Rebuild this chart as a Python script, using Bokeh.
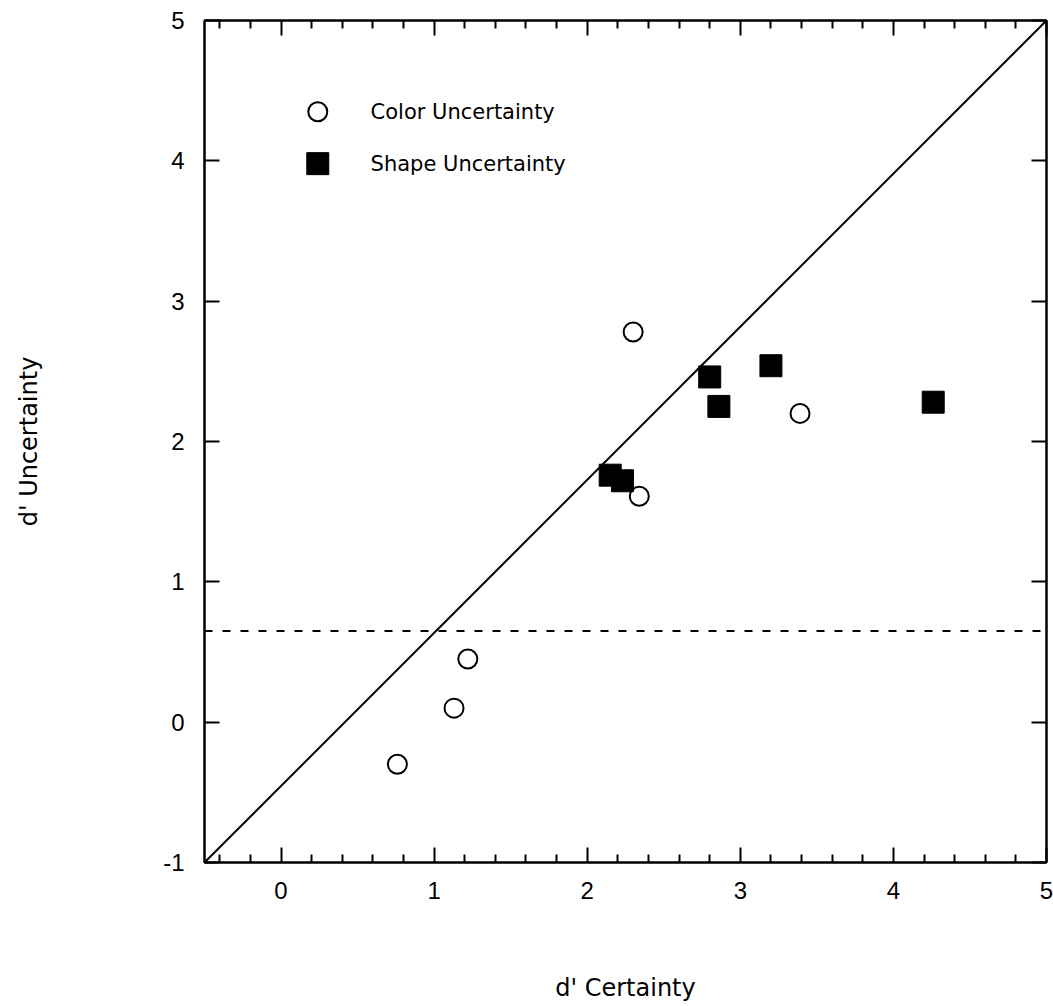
from bokeh.plotting import figure
from bokeh.models import LinearAxis, FixedTicker, Range1d
from bokeh.core.properties import value
from bokeh.embed import file_html
from bokeh.resources import INLINE

# Data
color_x = [2.30, 3.39, 2.34, 1.22, 1.13, 0.76]
color_y = [2.78, 2.20, 1.61, 0.45, 0.10, -0.30]
shape_x = [2.15, 2.23, 2.80, 2.86, 3.20, 4.26]
shape_y = [1.76, 1.72, 2.46, 2.25, 2.54, 2.28]
chance_level = 0.65
diag_x = [-0.5, 5.0]
diag_y = [-1.0, 5.0]
x_ticks = [0, 1, 2, 3, 4, 5]
y_ticks = [-1, 0, 1, 2, 3, 4, 5]
legend_labels = ["Color Uncertainty", "Shape Uncertainty"]

TICK_FONT = "Liberation Sans"
TEXT_FONT = "DejaVu Sans"

p = figure(frame_width=842, frame_height=842,
           x_range=Range1d(-0.5, 5.0), y_range=Range1d(-1.0, 5.0),
           output_backend="svg", toolbar_location=None,
           min_border_left=204, min_border_top=20, min_border_right=7,
           min_border_bottom=142, x_axis_location=None, y_axis_location=None)
p.xgrid.visible = False
p.ygrid.visible = False
p.outline_line_color = "black"
p.outline_line_width = 2
p.background_fill_color = "white"
p.border_fill_color = "white"

minor_x = [v / 10 for v in range(-4, 50, 2) if v % 10 != 0]

def make_x(labels=True):
    ax = LinearAxis(ticker=FixedTicker(ticks=x_ticks, minor_ticks=minor_x))
    ax.axis_line_width = 2
    ax.major_tick_in = 15
    ax.major_tick_out = 0
    ax.minor_tick_in = 8
    ax.minor_tick_out = 0
    ax.major_tick_line_width = 2
    ax.minor_tick_line_width = 2
    if labels:
        ax.major_label_text_font = TICK_FONT
        ax.major_label_text_font_size = "24px"
        ax.major_label_text_color = "black"
        ax.major_label_standoff = 19
        ax.axis_label = "d' Certainty"
        ax.axis_label_text_font = TEXT_FONT
        ax.axis_label_text_font_style = "normal"
        ax.axis_label_text_font_size = "24px"
        ax.axis_label_text_color = "black"
        ax.axis_label_standoff = 72
    else:
        ax.major_label_overrides = {t: "" for t in x_ticks}
        ax.major_label_standoff = 0
    return ax

def make_y(labels=True):
    ax = LinearAxis(ticker=FixedTicker(ticks=y_ticks, minor_ticks=[]))
    ax.axis_line_width = 2
    ax.major_tick_in = 15
    ax.major_tick_out = 0
    ax.minor_tick_line_color = None
    ax.major_tick_line_width = 2
    if labels:
        ax.major_label_text_font = TICK_FONT
        ax.major_label_text_font_size = "24px"
        ax.major_label_text_color = "black"
        ax.major_label_overrides = {-1: "-1"}
        ax.major_label_standoff = 20
        ax.axis_label = "d' Uncertainty"
        ax.axis_label_text_font = TEXT_FONT
        ax.axis_label_text_font_style = "normal"
        ax.axis_label_text_font_size = "24px"
        ax.axis_label_text_color = "black"
        ax.axis_label_standoff = 117
    else:
        ax.major_label_overrides = {t: "" for t in y_ticks}
        ax.major_label_standoff = 0
    return ax

p.add_layout(make_x(True), "below")
p.add_layout(make_x(False), "above")
p.add_layout(make_y(True), "left")
p.add_layout(make_y(False), "right")

# reference lines
p.line(diag_x, diag_y, line_color="black", line_width=2)
p.line(diag_x, [chance_level, chance_level], line_color="black", line_width=2,
       line_dash="8 10")

# data
p.scatter(color_x, color_y, marker="circle", size=19, fill_color="white",
          line_color="black", line_width=2)
p.scatter(shape_x, shape_y, marker="square", size=22, fill_color="black",
          line_color="black", line_width=1)

# legend
p.scatter([0.24], [4.35], marker="circle", size=19, fill_color="white",
          line_color="black", line_width=2)
p.scatter([0.24], [3.98], marker="square", size=22, fill_color="black",
          line_color="black", line_width=1)
p.text([0.585, 0.585], [4.35, 3.98], text=legend_labels,
       text_font=value(TEXT_FONT), text_font_size="21px",
       text_baseline="middle", text_align="left", text_color="black")

open("out.html", "w").write(file_html(p, INLINE))
